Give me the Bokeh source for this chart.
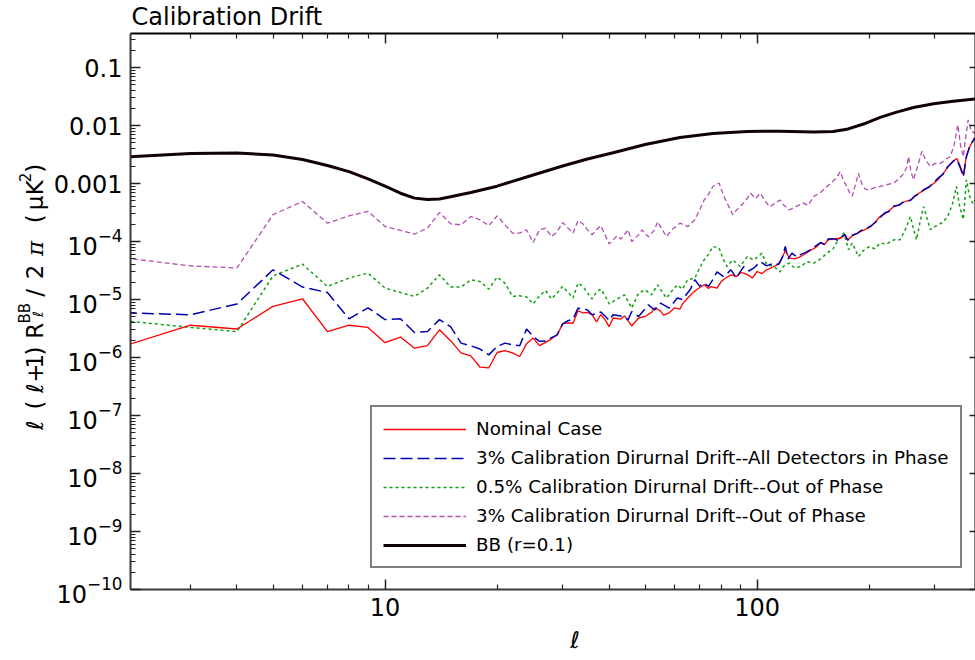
from math import pi
from bokeh.plotting import figure
from bokeh.layouts import row
from bokeh.models import (LogAxis, FixedTicker, LogTickFormatter, Legend,
                          LegendItem, Range1d)
from bokeh.core.properties import value
from bokeh.embed import file_html
from bokeh.resources import INLINE

# ---------------- data ----------------
ell_nominal = [2, 3, 4, 5, 6, 7, 8, 9, 10, 11,
               12, 13, 14, 15, 16, 17, 18, 19, 20, 21,
               22, 23, 24, 25, 26, 27, 28, 29, 30, 31,
               32, 33, 34, 35, 36, 37, 38, 39, 40, 41,
               43, 44, 46, 48, 50, 52, 53, 55, 56, 58,
               60, 62, 63, 65, 67, 69, 72, 74, 75, 78,
               80, 82, 85, 88, 90, 92, 95, 97, 100, 103,
               106, 110, 115, 119, 122, 126, 131, 135, 140, 144,
               148, 152, 155, 160, 168, 172, 175, 180, 186, 190,
               194, 198, 202, 208, 214, 220, 226, 233, 240, 248,
               258, 265, 272, 280, 290, 298, 307, 316, 325, 337,
               344, 351, 358, 365, 372, 380, 384]
cl_nominal = [1.6e-6, 3.6e-6, 3.1e-6, 7.6e-6, 1.03e-5, 2.8e-6, 3.6e-6, 3.3e-6, 1.8e-6, 2.25e-6,
              1.45e-6, 1.6e-6, 3.0e-6, 1.95e-6, 1.2e-6, 1.07e-6, 6.8e-7, 6.6e-7, 1.22e-6, 1.32e-6,
              1.2e-6, 1.04e-6, 1.72e-6, 2.16e-6, 1.6e-6, 1.82e-6, 2.1e-6, 2.45e-6, 3.8e-6, 3.95e-6,
              3.9e-6, 6.4e-6, 5.9e-6, 6.0e-6, 5.5e-6, 4.1e-6, 5.5e-6, 4.5e-6, 3.4e-6, 4.8e-6,
              4.6e-6, 5.2e-6, 3.5e-6, 4.8e-6, 5.1e-6, 6.0e-6, 7.2e-6, 6.3e-6, 5.4e-6, 5.9e-6,
              7.2e-6, 6.8e-6, 8.4e-6, 1.05e-5, 1.29e-5, 1.5e-5, 1.8e-5, 1.55e-5, 1.67e-5, 1.57e-5,
              2.04e-5, 2.3e-5, 2.67e-5, 2.49e-5, 2.9e-5, 2.85e-5, 2.6e-5, 2.34e-5, 3.04e-5, 2.8e-5,
              3.25e-5, 3.6e-5, 4.25e-5, 7.0e-5, 5.2e-5, 5.0e-5, 5.5e-5, 6.2e-5, 7.2e-5, 8.0e-5,
              9.4e-5, 9.0e-5, 1.07e-4, 1.1e-4, 1.15e-4, 1.3e-4, 1.07e-4, 1.25e-4, 1.4e-4, 1.5e-4,
              1.59e-4, 1.7e-4, 1.82e-4, 2.2e-4, 2.7e-4, 3.0e-4, 3.4e-4, 4.0e-4, 4.3e-4, 4.8e-4,
              5.2e-4, 6.0e-4, 6.8e-4, 7.6e-4, 8.9e-4, 1.0e-3, 1.2e-3, 1.5e-3, 1.9e-3, 2.5e-3,
              2.7e-3, 2.0e-3, 1.4e-3, 3.0e-3, 4.2e-3, 5.5e-3, 6.2e-3]

ell_inphase = [2, 3, 4, 5, 6, 7, 8, 9, 10, 11,
               12, 13, 14, 15, 16, 17, 18, 19, 20, 21,
               22, 23, 24, 25, 26, 27, 28, 29, 30, 31,
               32, 33, 34, 35, 36, 37, 38, 39, 40, 41,
               43, 45, 46, 48, 51, 53, 55, 58, 61, 63,
               66, 68, 70, 72, 74, 76, 78, 81, 83, 85,
               88, 90, 92, 95, 98, 102, 106, 111, 114, 117,
               119, 121, 124, 128, 131, 135, 140, 144, 148, 152,
               155, 160, 165, 168, 172, 175, 180, 186, 190, 194,
               198, 202, 208, 214, 220, 226, 233, 240, 248, 258,
               265, 272, 280, 290, 298, 307, 316, 325, 337, 344,
               351, 358, 365, 372, 380, 384]
cl_inphase = [5.9e-6, 5.45e-6, 8.4e-6, 3.25e-5, 1.64e-5, 1.32e-5, 4.65e-6, 7.2e-6, 4.5e-6, 4.65e-6,
              2.7e-6, 2.8e-6, 4.5e-6, 3.4e-6, 1.77e-6, 1.59e-6, 1.4e-6, 1.11e-6, 1.55e-6, 1.77e-6,
              1.66e-6, 1.59e-6, 3.1e-6, 2.3e-6, 1.9e-6, 1.93e-6, 2.2e-6, 2.46e-6, 3.8e-6, 4.3e-6,
              4.6e-6, 7.1e-6, 6.9e-6, 6.6e-6, 5.45e-6, 5.7e-6, 6.1e-6, 5.2e-6, 4.35e-6, 5.45e-6,
              5.2e-6, 4.5e-6, 6.2e-6, 5.1e-6, 8.1e-6, 6.6e-6, 8.7e-6, 7.1e-6, 1.06e-5, 1.0e-5,
              1.47e-5, 2.2e-5, 1.7e-5, 1.92e-5, 1.68e-5, 2.2e-5, 3.0e-5, 2.5e-5, 2.8e-5, 3.25e-5,
              2.35e-5, 3.0e-5, 3.7e-5, 3.1e-5, 3.5e-5, 4.5e-5, 3.8e-5, 4.25e-5, 4.0e-5, 5.5e-5,
              8.2e-5, 5.0e-5, 6.3e-5, 5.4e-5, 6.0e-5, 6.5e-5, 7.4e-5, 8.5e-5, 9.6e-5, 8.8e-5,
              1.1e-4, 1.12e-4, 1.05e-4, 1.2e-4, 1.32e-4, 1.05e-4, 1.28e-4, 1.38e-4, 1.55e-4, 1.6e-4,
              1.72e-4, 1.85e-4, 2.15e-4, 2.6e-4, 3.1e-4, 3.3e-4, 4.1e-4, 4.2e-4, 4.9e-4, 5.1e-4,
              6.1e-4, 6.6e-4, 7.8e-4, 8.7e-4, 1.05e-3, 1.25e-3, 1.45e-3, 1.95e-3, 2.45e-3, 2.6e-3,
              1.9e-3, 1.3e-3, 2.9e-3, 4.3e-3, 5.4e-3, 6.0e-3]

ell_out05 = [2, 3, 4, 5, 6, 7, 8, 9, 10, 11,
             12, 13, 14, 15, 16, 17, 18, 19, 20, 21,
             22, 23, 24, 25, 26, 27, 28, 29, 30, 31,
             32, 33, 34, 35, 36, 37, 38, 39, 40, 42,
             44, 46, 48, 50, 52, 54, 57, 59, 61, 63,
             65, 68, 70, 72, 74, 76, 79, 81, 83, 86,
             90, 94, 98, 103, 106, 111, 115, 118, 122, 126,
             131, 136, 142, 148, 154, 160, 164, 168, 171, 176,
             180, 184, 187, 193, 200, 207, 214, 222, 233, 242,
             250, 258, 262, 268, 274, 280, 286, 292, 300, 312,
             318, 325, 335, 343, 350, 358, 365, 372, 380, 385]
cl_out05 = [4.3e-6, 3.3e-6, 2.8e-6, 2.56e-5, 4.07e-5, 1.68e-5, 2.34e-5, 2.85e-5, 1.57e-5, 1.32e-5,
            1.13e-5, 1.57e-5, 2.67e-5, 1.64e-5, 1.64e-5, 2.19e-5, 2.04e-5, 1.51e-5, 2.43e-5, 1.92e-5,
            1.13e-5, 1.16e-5, 1.11e-5, 8.4e-6, 1.16e-5, 1.43e-5, 1.02e-5, 1.3e-5, 1.68e-5, 1.35e-5,
            1.06e-5, 1.92e-5, 1.7e-5, 1.3e-5, 1.02e-5, 1.35e-5, 1.51e-5, 1.16e-5, 8.4e-6, 1.02e-5,
            1.2e-5, 7.1e-6, 1.29e-5, 1.47e-5, 1.2e-5, 1.79e-5, 1.06e-5, 1.4e-5, 1.79e-5, 1.5e-5,
            2.19e-5, 2.34e-5, 3.5e-5, 4.83e-5, 6.0e-5, 8.2e-5, 7.7e-5, 5.0e-5, 3.7e-5, 4.8e-5,
            3.7e-5, 5.5e-5, 4.8e-5, 6.3e-5, 4.0e-5, 3.7e-5, 3.0e-5, 3.8e-5, 4.25e-5, 3.5e-5,
            3.7e-5, 4.5e-5, 4.25e-5, 5.0e-5, 6.3e-5, 7.5e-5, 1.0e-4, 1.2e-4, 1.4e-4, 7.2e-5,
            9.4e-5, 7.0e-5, 5.5e-5, 7.0e-5, 8.2e-5, 7.5e-5, 9.4e-5, 9.0e-5, 1.07e-4, 1.07e-4,
            1.6e-4, 2.7e-4, 1.8e-4, 1.07e-4, 2.2e-4, 4.0e-4, 2.5e-4, 1.6e-4, 1.8e-4, 2.07e-4,
            2.3e-4, 2.7e-4, 4.5e-4, 8.9e-4, 4.0e-4, 2.4e-4, 1.16e-3, 6.0e-4, 4.5e-4, 5.2e-4]

ell_out3 = [2, 3, 4, 5, 6, 7, 8, 9, 10, 11,
            12, 13, 14, 15, 16, 17, 18, 19, 20, 21,
            22, 23, 24, 25, 26, 27, 28, 29, 30, 31,
            32, 33, 34, 35, 36, 37, 38, 39, 40, 42,
            43, 45, 46, 48, 49, 51, 53, 54, 57, 59,
            62, 65, 68, 70, 72, 74, 76, 79, 81, 83,
            86, 88, 90, 93, 96, 99, 102, 105, 108, 112,
            115, 118, 122, 127, 133, 137, 142, 148, 154, 160,
            164, 167, 171, 174, 177, 180, 184, 187, 191, 195,
            200, 207, 214, 222, 233, 240, 248, 252, 255, 259,
            263, 270, 277, 284, 292, 300, 312, 320, 330, 338,
            346, 352, 358, 363, 369, 376, 385]
cl_out3 = [5.2e-5, 3.8e-5, 3.5e-5, 2.9e-4, 4.9e-4, 2.07e-4, 2.77e-4, 3.3e-4, 1.82e-4, 1.55e-4,
           1.34e-4, 1.7e-4, 3.16e-4, 2.02e-4, 1.94e-4, 2.7e-4, 2.37e-4, 1.87e-4, 2.77e-4, 1.94e-4,
           1.4e-4, 1.4e-4, 1.59e-4, 9.6e-5, 1.59e-4, 1.7e-4, 1.22e-4, 1.47e-4, 2.13e-4, 1.72e-4,
           1.4e-4, 2.3e-4, 2.02e-4, 1.59e-4, 1.31e-4, 1.59e-4, 1.87e-4, 1.31e-4, 9.1e-5, 1.25e-4,
           1.1e-4, 1.59e-4, 1.0e-4, 1.3e-4, 1.59e-4, 1.2e-4, 1.59e-4, 2.2e-4, 1.22e-4, 1.6e-4,
           2.07e-4, 1.8e-4, 2.37e-4, 3.5e-4, 5.2e-4, 6.5e-4, 8.9e-4, 1.02e-3, 6.5e-4, 4.6e-4,
           2.9e-4, 3.5e-4, 4.0e-4, 5.0e-4, 6.8e-4, 5.5e-4, 6.8e-4, 5.0e-4, 4.0e-4, 4.6e-4,
           5.2e-4, 4.2e-4, 3.5e-4, 4.0e-4, 4.6e-4, 4.2e-4, 6.0e-4, 7.0e-4, 8.9e-4, 1.1e-3,
           1.3e-3, 1.6e-3, 1.1e-3, 8.9e-4, 7.0e-4, 6.0e-4, 1.0e-3, 1.5e-3, 1.0e-3, 8.0e-4,
           7.8e-4, 8.5e-4, 8.9e-4, 9.5e-4, 1.02e-3, 1.2e-3, 1.5e-3, 1.9e-3, 2.9e-3, 1.6e-3,
           1.16e-3, 2.0e-3, 3.6e-3, 2.5e-3, 1.96e-3, 2.2e-3, 2.25e-3, 2.6e-3, 2.9e-3, 4.5e-3,
           1.03e-2, 4.5e-3, 2.9e-3, 6.0e-3, 1.25e-2, 8.0e-3, 7.4e-3]

ell_bb = [2, 3, 4, 5, 6, 7, 8, 9, 10, 11,
          12, 13, 14, 15, 17, 20, 25, 30, 35, 41,
          50, 62, 76, 94, 115, 142, 160, 174, 193, 214,
          237, 263, 298, 336, 385]
cl_bb = [2.85e-3, 3.3e-3, 3.35e-3, 3.1e-3, 2.6e-3, 2.05e-3, 1.6e-3, 1.2e-3, 9.0e-4, 6.8e-4,
         5.6e-4, 5.3e-4, 5.4e-4, 5.9e-4, 7.0e-4, 9.0e-4, 1.4e-3, 2.0e-3, 2.65e-3, 3.4e-3,
         4.7e-3, 6.2e-3, 7.3e-3, 7.9e-3, 8.0e-3, 7.7e-3, 7.9e-3, 8.6e-3, 1.06e-2, 1.38e-2,
         1.7e-2, 2.05e-2, 2.37e-2, 2.63e-2, 2.88e-2]

labels = ["Nominal Case",
          "3% Calibration Dirurnal Drift--All Detectors in Phase",
          "0.5% Calibration Dirurnal Drift--Out of Phase",
          "3% Calibration Dirurnal Drift--Out of Phase",
          "BB (r=0.1)"]

x_major = [10, 100]
x_minor = [2, 3, 4, 5, 6, 7, 8, 9, 20, 30, 40, 50, 60, 70, 80, 90, 200, 300, 400]
y_major = [10.0 ** k for k in range(-10, 0)]
y_minor = [m * 10.0 ** k for k in range(-10, 0) for m in range(2, 10)]

FONT = "DejaVu Sans"
W_TOTAL, H_TOTAL = 975, 660
W_LEFT = 49

# ---------------- main figure ----------------
p = figure(width=W_TOTAL - W_LEFT, height=H_TOTAL, x_axis_type="log", y_axis_type="log",
           x_range=Range1d(2.07, 386), y_range=Range1d(1e-10, 0.386),
           output_backend="svg", toolbar_location=None, title="Calibration Drift",
           min_border_left=130 - W_LEFT, min_border_right=0, min_border_top=33,
           min_border_bottom=71)
p.grid.visible = False
p.outline_line_color = None
p.background_fill_color = "white"
p.border_fill_color = "white"
p.title.text_font = FONT
p.title.text_font_size = "24px"
p.title.text_font_style = "normal"
p.title.text_color = "black"
p.title.align = "left"
p.title.vertical_align = "top"
p.title.standoff = 2
p.title.offset = 1

def style_axis(ax, major_in=10, minor_in=5):
    ax.axis_line_color = "#3a3a3a"
    ax.axis_line_width = 2
    ax.major_tick_in = major_in
    ax.major_tick_out = 0
    ax.minor_tick_in = minor_in
    ax.minor_tick_out = 0
    ax.major_tick_line_color = "#222222"
    ax.minor_tick_line_color = "#222222"
    ax.major_tick_line_width = 1.5
    ax.minor_tick_line_width = 1.2
    ax.major_label_text_font = FONT
    ax.major_label_text_font_size = "24px"
    ax.major_label_text_color = "black"

xax = p.xaxis[0]
xax.ticker = FixedTicker(ticks=x_major, minor_ticks=x_minor)
xax.formatter = LogTickFormatter(min_exponent=4)
xax.major_label_overrides = {10: "10", 100: "100"}
style_axis(xax)
xax.major_label_standoff = 8
xax.axis_label = "\u00a0" * 6 + "ℓ"
xax.axis_label_text_font = FONT
xax.axis_label_text_font_size = "23px"
xax.axis_label_text_font_style = "normal"
xax.axis_label_text_color = "black"
xax.axis_label_standoff = 8

yax = p.yaxis[0]
yax.ticker = FixedTicker(ticks=y_major, minor_ticks=y_minor)
yax.formatter = LogTickFormatter(min_exponent=4)
yax.major_label_overrides = {0.1: "0.1", 0.01: "0.01", 0.001: "0.001"}
style_axis(yax)
yax.major_label_standoff = 8

top = LogAxis(ticker=FixedTicker(ticks=x_major, minor_ticks=x_minor))
style_axis(top)
top.axis_line_color = "black"
top.major_label_text_font_size = "0px"
top.major_label_standoff = 0
top.major_label_overrides = {10: "", 100: ""}
p.add_layout(top, "above")

right = LogAxis(ticker=FixedTicker(ticks=y_major))
style_axis(right, major_in=6, minor_in=0)
right.axis_line_color = "black"
right.minor_tick_line_color = None
right.major_label_text_font_size = "0px"
right.major_label_standoff = 0
right.major_label_overrides = {v: "" for v in y_major}
p.add_layout(right, "right")

# ---------------- lines ----------------
r_out3 = p.line(ell_out3, cl_out3, line_color="#b050b0", line_width=1.3, line_dash="5 3")
r_out05 = p.line(ell_out05, cl_out05, line_color="#10a010", line_width=1.5, line_dash="3 3")
r_nom = p.line(ell_nominal, cl_nominal, line_color="#ff0000", line_width=1.3)
r_inph = p.line(ell_inphase, cl_inphase, line_color="#0000b4", line_width=1.5, line_dash="12 5")
r_bb = p.line(ell_bb, cl_bb, line_color="#120008", line_width=3)

legend = Legend(items=[LegendItem(label=labels[0], renderers=[r_nom]),
                       LegendItem(label=labels[1], renderers=[r_inph]),
                       LegendItem(label=labels[2], renderers=[r_out05]),
                       LegendItem(label=labels[3], renderers=[r_out3]),
                       LegendItem(label=labels[4], renderers=[r_bb])],
                location=(240, 21))
legend.label_text_font = FONT
legend.label_text_font_size = "18.3px"
legend.label_text_color = "black"
legend.glyph_width = 83
legend.glyph_height = 20
legend.label_height = 20
legend.label_standoff = 10
legend.spacing = 8
legend.padding = 11
legend.margin = 0
legend.border_line_color = "black"
legend.border_line_width = 2
legend.background_fill_color = "white"
legend.background_fill_alpha = 1.0
p.add_layout(legend)

# ---------------- left strip carrying the y-axis label ----------------
lp = figure(width=W_LEFT, height=H_TOTAL, x_range=Range1d(0, W_LEFT), y_range=Range1d(H_TOTAL, 0),
            output_backend="svg", toolbar_location=None, min_border=0,
            x_axis_location=None, y_axis_location=None)
lp.grid.visible = False
lp.outline_line_color = None
lp.background_fill_color = "white"
lp.border_fill_color = "white"

# (text, centre y on page, baseline x on page)
ylab_main = [("ℓ", 465, 34), ("(", 441, 34), ("ℓ", 421, 34), ("+", 403, 34), ("1", 389, 34),
             (")", 377, 34), ("R", 353, 34), ("/", 308, 34), ("2", 283, 34), ("(", 220, 34),
             ("μ", 201, 34), ("K", 183, 34), (")", 160, 34)]
ylab_sup = [("BB", 332, 24), ("2", 171, 24)]
ylab_sub = [("ℓ", 333, 37)]
ylab_serif = [("π", 255, 34)]

for pieces, fnt, size, style in [(ylab_main, FONT, "23px", "normal"),
                                 (ylab_sup, FONT, "15px", "normal"),
                                 (ylab_sub, FONT, "14px", "normal"),
                                 (ylab_serif, "DejaVu Serif", "23px", "italic")]:
    lp.text(x=[c[2] for c in pieces], y=[c[1] for c in pieces], text=[c[0] for c in pieces],
            angle=pi / 2, text_align="center", text_baseline="alphabetic",
            text_font=value(fnt), text_font_size=value(size), text_font_style=style,
            text_color="black")

layout = row(lp, p)
open("out.html", "w").write(file_html(layout, INLINE))
